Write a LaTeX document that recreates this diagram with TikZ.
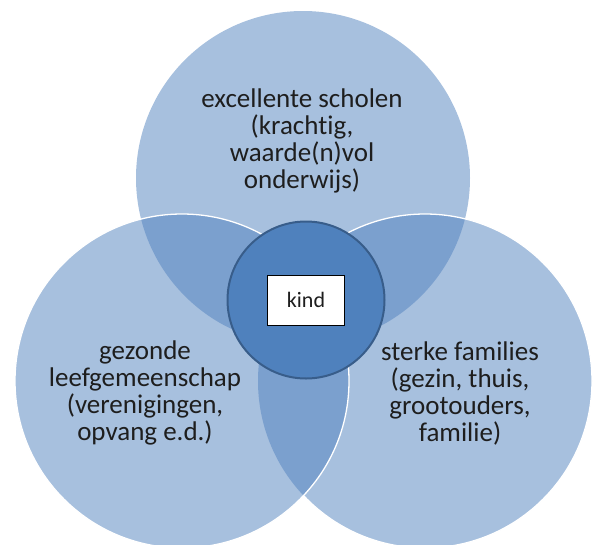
\documentclass[tikz,border=0pt]{standalone}
\usepackage{fontspec}
\setmainfont{Carlito}[Ligatures=NoCommon]
\definecolor{vennlight}{HTML}{A7C0DE}
\definecolor{venndark}{HTML}{7BA0CE}
\definecolor{kindblue}{HTML}{4F81BD}
\definecolor{kindborder}{HTML}{385D8A}
\definecolor{inkgrey}{HTML}{1E1E1E}
\tikzset{
	venntext/.style={font=\fontsize{27}{27}\selectfont, align=center, text=inkgrey},
	rim/.style={draw=white, line width=1.3pt}
}
\begin{document}
\begin{tikzpicture}[x=1pt, y=-1pt]
	\useasboundingbox (0, 0) rectangle (597, 544);
	\clip (0, 0) rectangle (597, 544);
	
	% top circle
	\fill[vennlight] (303, 178) circle (167);
	
	% right circle
	\fill[vennlight] (425, 381) circle (167);
	\begin{scope}
		\clip (425, 381) circle (167);
		\fill[venndark] (303, 178) circle (167);
	\end{scope}
	\draw[rim] (425, 381) circle (167);
	
	% left circle
	\fill[vennlight] (182, 381) circle (167);
	\begin{scope}
		\clip (182, 381) circle (167);
		\fill[venndark] (303, 178) circle (167);
		\fill[venndark] (425, 381) circle (167);
	\end{scope}
	\draw[rim] (182, 381) circle (167);
	
	% circle texts
	\node[venntext] (scholen) at (302, 141) {excellente scholen\\(krachtig,\\waarde(n)vol\\onderwijs)};
	\node[venntext] (leefgemeenschap) at (145, 393) {gezonde\\leefgemeenschap\\(verenigingen,\\opvang e.d.)};
	\node[venntext] (families) at (460, 393) {sterke families\\(gezin, thuis,\\grootouders,\\familie)};
	
	% child in the middle
	\node[circle, fill=kindblue, draw=kindborder, line width=2pt, minimum size=157pt] (kern) at (306, 300) {};
	\node[draw=black, fill=white, line width=.8pt, minimum width=77pt, minimum height=50pt,
		font=\fontsize{22}{24}\selectfont, text=inkgrey] (kind) at (kern) {kind};
\end{tikzpicture}
\end{document}
